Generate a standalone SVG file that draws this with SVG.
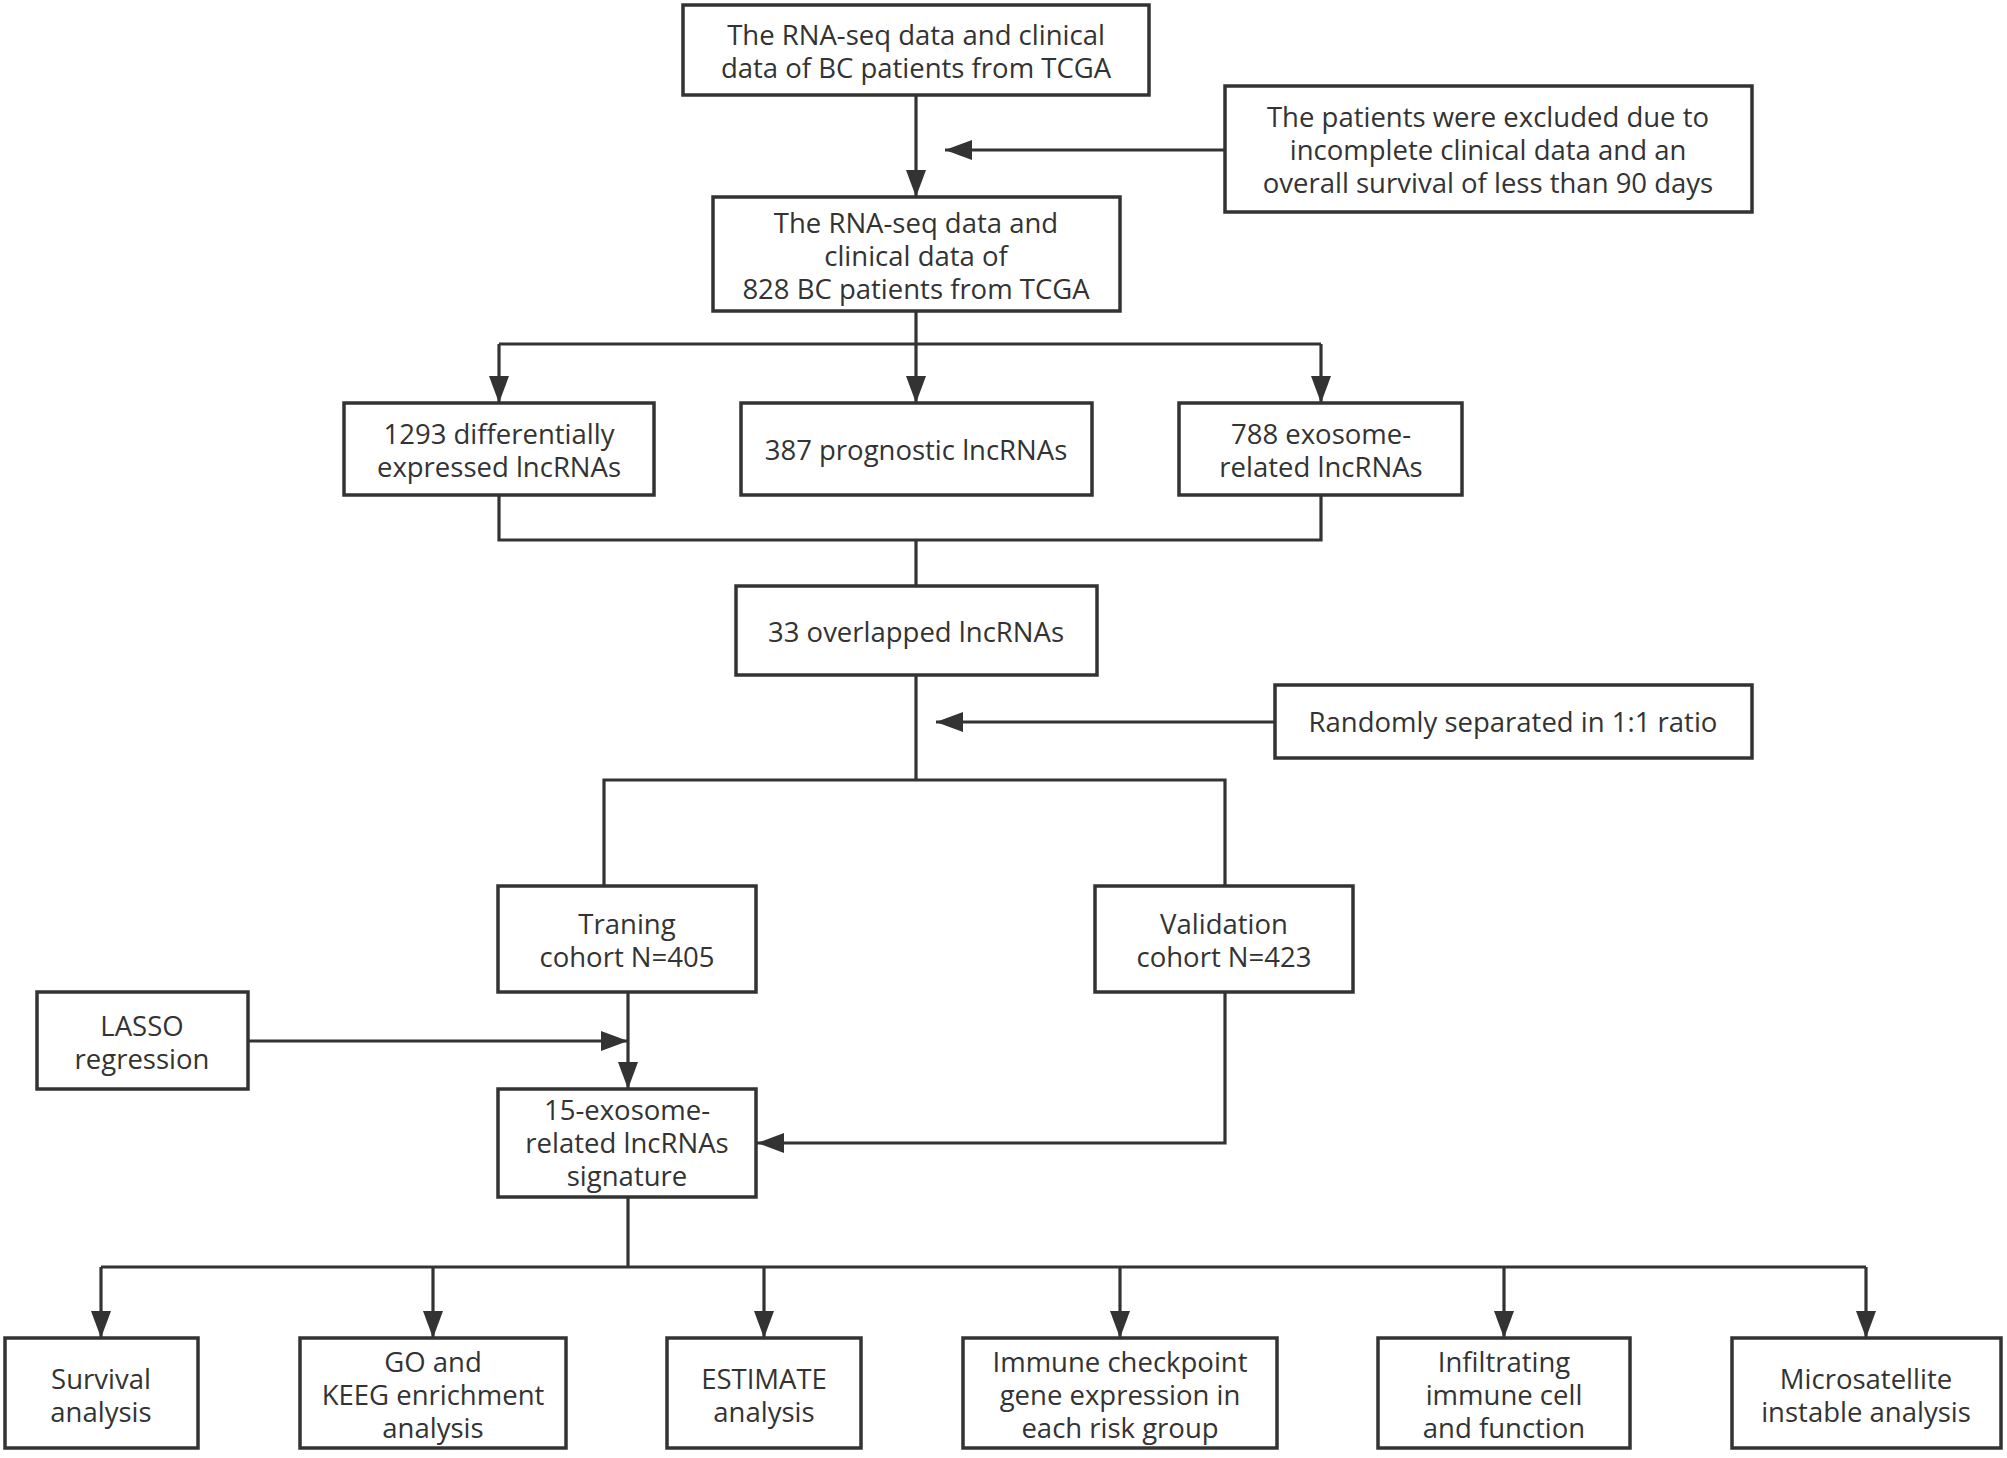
<svg xmlns="http://www.w3.org/2000/svg" width="2007" height="1458" viewBox="0 0 2007 1458">
<style>
.box{fill:#fff;stroke:#333;stroke-width:3.5}
.t{font-family:"Open Sans","Noto Sans","DejaVu Sans",sans-serif;font-size:27.5px;fill:#333;text-anchor:middle}
.c{fill:none;stroke:#333;stroke-width:3.2}
</style>
<defs>
<marker id="ah" viewBox="0 0 27 20" refX="27" refY="10" markerWidth="27" markerHeight="20" markerUnits="userSpaceOnUse" orient="auto"><path d="M0,0 L27,10 L0,20 z" fill="#333"/></marker>
</defs>
<rect width="2007" height="1458" fill="#fff"/>
<g id="connectors">
<path class="c" d="M916,95 V197" marker-end="url(#ah)"/>
<path class="c" d="M1225,150 H945" marker-end="url(#ah)"/>
<path class="c" d="M916,311 V344 M499,344 H1321"/>
<path class="c" d="M499,344 V403" marker-end="url(#ah)"/>
<path class="c" d="M916,344 V403" marker-end="url(#ah)"/>
<path class="c" d="M1321,344 V403" marker-end="url(#ah)"/>
<path class="c" d="M499,495 V540 H1321 V495 M916,540 V586"/>
<path class="c" d="M916,675 V780 M604,886 V780 H1225 V886"/>
<path class="c" d="M1275,722 H936" marker-end="url(#ah)"/>
<path class="c" d="M248,1041 H628" marker-end="url(#ah)"/>
<path class="c" d="M628,992 V1089" marker-end="url(#ah)"/>
<path class="c" d="M1225,992 V1143 H757" marker-end="url(#ah)"/>
<path class="c" d="M628,1197 V1267 M101,1267 H1866"/>
<path class="c" d="M101,1267 V1338" marker-end="url(#ah)"/>
<path class="c" d="M433,1267 V1338" marker-end="url(#ah)"/>
<path class="c" d="M764,1267 V1338" marker-end="url(#ah)"/>
<path class="c" d="M1120,1267 V1338" marker-end="url(#ah)"/>
<path class="c" d="M1504,1267 V1338" marker-end="url(#ah)"/>
<path class="c" d="M1866,1267 V1338" marker-end="url(#ah)"/>
</g>
<g id="n1"><rect class="box" x="683" y="5" width="466" height="90"/>
<text class="t" x="916" y="45">The RNA-seq data and clinical</text><text class="t" x="916" y="78">data of BC patients from TCGA</text></g>
<g id="n2"><rect class="box" x="1225" y="86" width="527" height="126"/>
<text class="t" x="1488" y="127">The patients were excluded due to</text><text class="t" x="1488" y="160">incomplete clinical data and an</text><text class="t" x="1488" y="193">overall survival of less than 90 days</text></g>
<g id="n3"><rect class="box" x="713" y="197" width="407" height="114"/>
<text class="t" x="916" y="233">The RNA-seq data and</text><text class="t" x="916" y="266">clinical data of</text><text class="t" x="916" y="299">828 BC patients from TCGA</text></g>
<g id="n4"><rect class="box" x="344" y="403" width="310" height="92"/>
<text class="t" x="499" y="444">1293 differentially</text><text class="t" x="499" y="477">expressed lncRNAs</text></g>
<g id="n5"><rect class="box" x="741" y="403" width="351" height="92"/>
<text class="t" x="916" y="460">387 prognostic lncRNAs</text></g>
<g id="n6"><rect class="box" x="1179" y="403" width="283" height="92"/>
<text class="t" x="1321" y="444">788 exosome-</text><text class="t" x="1321" y="477">related lncRNAs</text></g>
<g id="n7"><rect class="box" x="736" y="586" width="361" height="89"/>
<text class="t" x="916" y="642">33 overlapped lncRNAs</text></g>
<g id="n8"><rect class="box" x="1275" y="685" width="477" height="73"/>
<text class="t" x="1513" y="732">Randomly separated in 1:1 ratio</text></g>
<g id="n9"><rect class="box" x="498" y="886" width="258" height="106"/>
<text class="t" x="627" y="934">Traning</text><text class="t" x="627" y="967">cohort N=405</text></g>
<g id="n10"><rect class="box" x="1095" y="886" width="258" height="106"/>
<text class="t" x="1224" y="934">Validation</text><text class="t" x="1224" y="967">cohort N=423</text></g>
<g id="n11"><rect class="box" x="37" y="992" width="211" height="97"/>
<text class="t" x="142" y="1036">LASSO</text><text class="t" x="142" y="1069">regression</text></g>
<g id="n12"><rect class="box" x="498" y="1089" width="258" height="108"/>
<text class="t" x="627" y="1120">15-exosome-</text><text class="t" x="627" y="1153">related lncRNAs</text><text class="t" x="627" y="1186">signature</text></g>
<g id="n13"><rect class="box" x="5" y="1338" width="193" height="110"/>
<text class="t" x="101" y="1389">Survival</text><text class="t" x="101" y="1422">analysis</text></g>
<g id="n14"><rect class="box" x="300" y="1338" width="266" height="110"/>
<text class="t" x="433" y="1372">GO and</text><text class="t" x="433" y="1405">KEEG enrichment</text><text class="t" x="433" y="1438">analysis</text></g>
<g id="n15"><rect class="box" x="667" y="1338" width="194" height="110"/>
<text class="t" x="764" y="1389">ESTIMATE</text><text class="t" x="764" y="1422">analysis</text></g>
<g id="n16"><rect class="box" x="963" y="1338" width="314" height="110"/>
<text class="t" x="1120" y="1372">Immune checkpoint</text><text class="t" x="1120" y="1405">gene expression in</text><text class="t" x="1120" y="1438">each risk group</text></g>
<g id="n17"><rect class="box" x="1378" y="1338" width="252" height="110"/>
<text class="t" x="1504" y="1372">Infiltrating</text><text class="t" x="1504" y="1405">immune cell</text><text class="t" x="1504" y="1438">and function</text></g>
<g id="n18"><rect class="box" x="1732" y="1338" width="269" height="110"/>
<text class="t" x="1866" y="1389">Microsatellite</text><text class="t" x="1866" y="1422">instable analysis</text></g>
</svg>
